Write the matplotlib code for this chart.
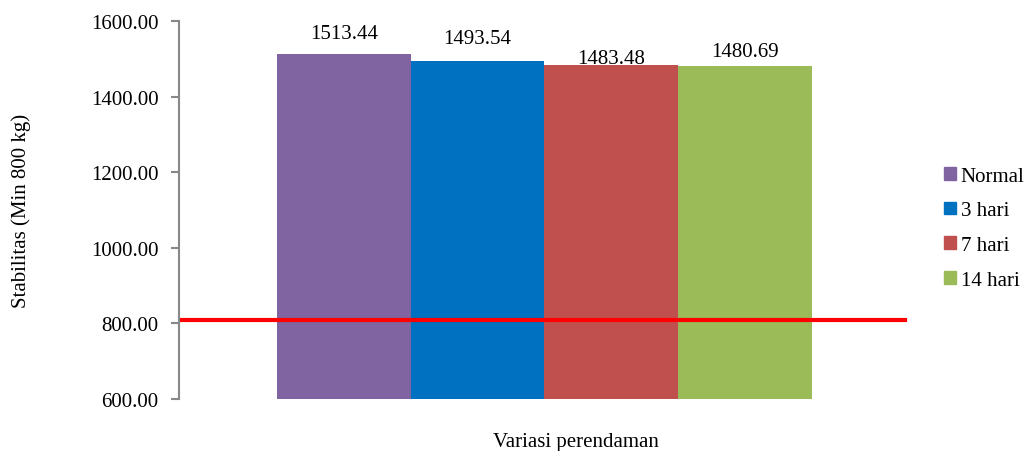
import matplotlib.pyplot as plt
from matplotlib.ticker import FormatStrFormatter
from matplotlib.patches import Patch

plt.rcParams['font.family'] = ['Liberation Serif', 'DejaVu Serif']

# data
kategori = ['Normal', '3 hari', '7 hari', '14 hari']
stabilitas = [1513.44, 1493.54, 1483.48, 1480.69]
batas_min = 808  # garis minimum stabilitas
warna = ['#8064A2', '#0070C0', '#C0504D', '#9BBB59']
label_offsets = [20.5, 22.5, 6.5, 14.5]  # jarak label di atas batang (px)

fig = plt.figure(figsize=(10.25, 4.52), dpi=100)
ax = fig.add_axes([0.1743, 0.115, 0.7144, 0.8363])

x = list(range(len(kategori)))
bars = ax.bar(x, stabilitas, width=1.0, color=warna)
for b, v, off in zip(bars, stabilitas, label_offsets):
    ax.annotate(f'{v:.2f}', (b.get_x() + b.get_width() / 2, v),
                xytext=(0, off * 0.72), textcoords='offset points',
                ha='center', va='center', fontsize=15)

ax.axhline(batas_min, xmin=0.003, xmax=0.992, color='#FF0000', lw=3)

ax.set_xlim(-1.235, 4.24)
ax.set_ylim(600, 1600)
ax.set_yticks(range(600, 1601, 200))
ax.yaxis.set_major_formatter(FormatStrFormatter('%.2f'))
ax.set_xticks([])
for s in ['top', 'right', 'bottom']:
    ax.spines[s].set_visible(False)
ax.spines['left'].set_color('#888888')
ax.spines['left'].set_linewidth(1.5)
ax.tick_params(axis='y', colors='#888888', length=6, width=1.5, labelsize=15,
               labelcolor='black', pad=8.5)

fig.text(0.021, 0.533, 'Stabilitas (Min 800 kg)', rotation=90,
         ha='center', va='center', fontsize=15)
fig.text(0.562, 0.022, 'Variasi perendaman', ha='center', va='center', fontsize=15)

handles = [Patch(color=c, label=k) for c, k in zip(warna, kategori)]
fig.legend(handles=handles, loc='center left', bbox_to_anchor=(0.911, 0.493),
           frameon=False, fontsize=15, handlelength=0.55, handleheight=0.55,
           handletextpad=0.25, labelspacing=0.75, borderpad=0)

fig.savefig('out.png', dpi=100)
